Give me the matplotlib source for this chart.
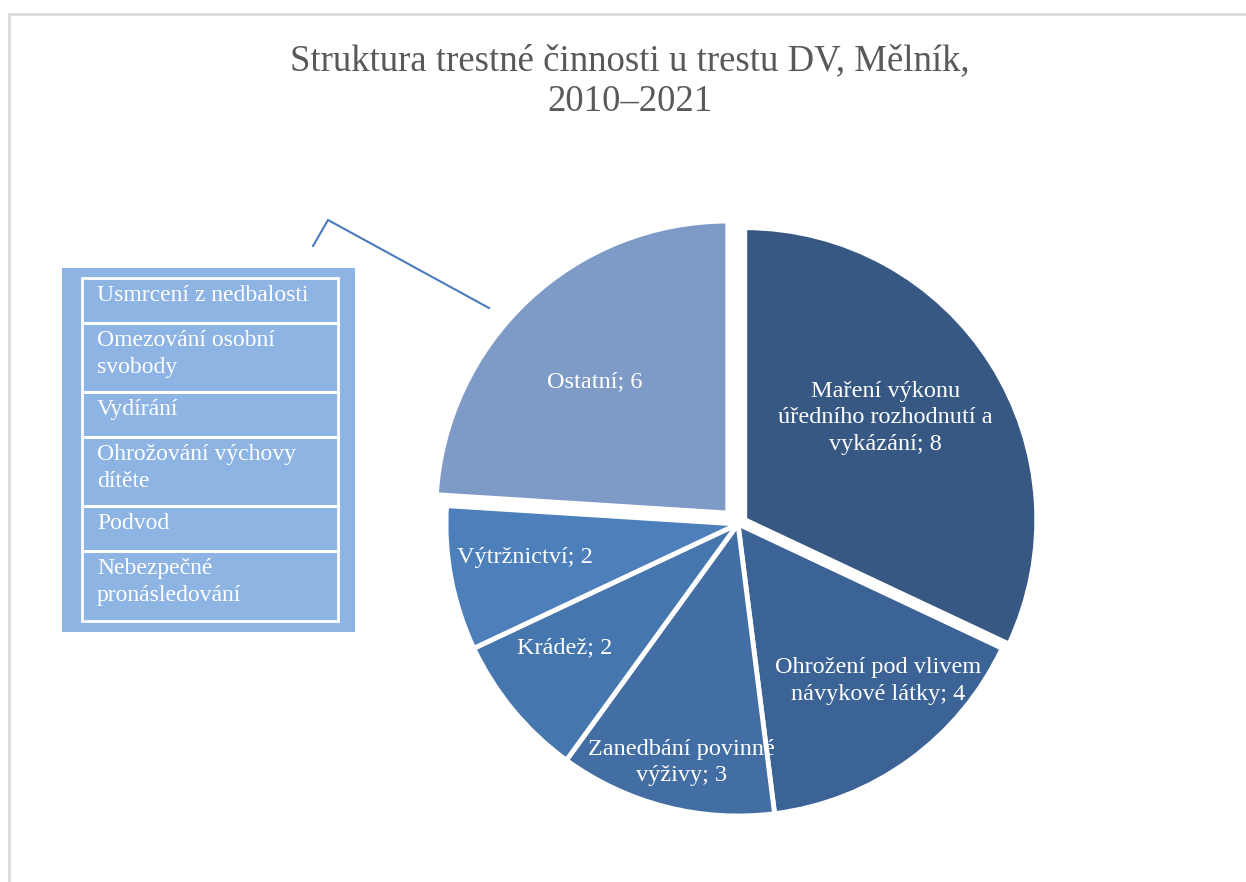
import matplotlib
matplotlib.use('Agg')
import matplotlib.pyplot as plt
import numpy as np

plt.rcParams['font.family'] = ['Liberation Serif', 'DejaVu Serif']

# data
labels = ['Maření výkonu\núředního rozhodnutí a\nvykázání',
          'Ohrožení pod vlivem\nnávykové látky',
          'Zanedbání povinné\nvýživy',
          'Krádež',
          'Výtržnictví',
          'Ostatní']
values = [8, 4, 3, 2, 2, 6]
other_items = ['Usmrcení z nedbalosti',
               'Omezování osobní\nsvobody',
               'Vydírání',
               'Ohrožování výchovy\ndítěte',
               'Podvod',
               'Nebezpečné\npronásledování']
title = 'Struktura trestné činnosti u trestu DV, Mělník,\n2010–2021'

colors = ['#365882', '#3c6396', '#426ea3', '#4676ae', '#4d80bb', '#7e9bc7']
explode = [8, 0, 0, 0, 0, 15]          # in pixels (pie offsets are in data units)
label_r = [0.595, 0.72, 0.84, 0.73, 0.74, 0.64]
label_shift = [3.5, 5.7, 1, -4, -2, 2]  # degrees

W, H = 1246, 882
fig = plt.figure(figsize=(W / 100, H / 100), dpi=100)
ax = fig.add_axes([0, 0, 1, 1])

cx, cy, R = 738, H - 524, 292
wedges, _ = ax.pie(values, colors=colors, startangle=90, counterclock=False,
                   explode=explode, center=(cx, cy), radius=R, frame=True,
                   wedgeprops=dict(edgecolor='white', linewidth=3.5))

for w, lab, v, rf, sh in zip(wedges, labels, values, label_r, label_shift):
    mid = np.deg2rad((w.theta1 + w.theta2) / 2 + sh)
    x0, y0 = w.center
    t = ax.text(x0 + rf * R * np.cos(mid), y0 + rf * R * np.sin(mid),
                f'{lab}; {v}', color='white', fontsize=17.5, ha='center',
                va='center', linespacing=1.35)
    t.set_clip_path(w)

ax.set_xlim(0, W)
ax.set_ylim(0, H)
ax.set_aspect('equal')
ax.axis('off')

# frame of the chart area
ax.plot([9, 9, W], [0, H - 14, H - 14], color='#d9d9d9', lw=2)

# title
ax.text(630, H - 81, title, ha='center', va='center', fontsize=26.5,
        color='#595959', linespacing=1.25)

# callout box for "Ostatní"
ax.add_patch(plt.Rectangle((62, H - 632), 293, 364, facecolor='#8eb4e3',
                           edgecolor='none'))
row_edges = [278, 323, 392, 437, 506, 551, 621]
for item, top, bot in zip(other_items, row_edges[:-1], row_edges[1:]):
    ax.add_patch(plt.Rectangle((82, H - bot), 256, bot - top,
                               facecolor='none', edgecolor='white', lw=2))
    ax.text(97, H - top - 7, item, ha='left', va='top', fontsize=17,
            color='white', linespacing=1.35)

ax.plot([313, 328, 489], [H - 246, H - 220, H - 308], color='#4a7bbd', lw=1.5)

fig.savefig('out.png', dpi=100)
